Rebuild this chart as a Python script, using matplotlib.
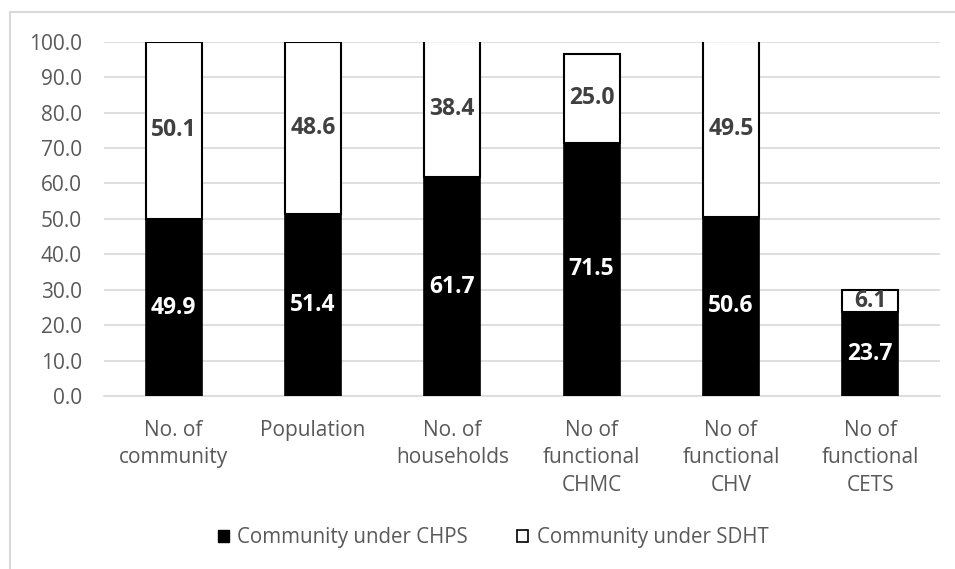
import matplotlib
matplotlib.use("Agg")
import matplotlib.pyplot as plt
from matplotlib.lines import Line2D
import numpy as np

categories = ["No. of\ncommunity", "Population", "No. of\nhouseholds",
              "No of\nfunctional\nCHMC", "No of\nfunctional\nCHV", "No of\nfunctional\nCETS"]
chps = [49.9, 51.4, 61.7, 71.5, 50.6, 23.7]
sdht = [50.1, 48.6, 38.4, 25.0, 49.5, 6.1]
series_names = ["Community under CHPS", "Community under SDHT"]
yticks = np.arange(0, 101, 10)

plt.rcParams['font.family'] = ['Open Sans', 'DejaVu Sans']

W, H = 955, 569
fig = plt.figure(figsize=(W / 100, H / 100), dpi=100)
ax = fig.add_axes([104 / W, 1 - 396 / H, (940 - 104) / W, (396 - 41.7) / H])

x = np.arange(len(categories))
bw = 0.40
b1 = ax.bar(x, chps, bw, color="black", edgecolor="black", linewidth=1.2, zorder=3)
b2 = ax.bar(x, sdht, bw, bottom=chps, color="white", edgecolor="black", linewidth=1.5, zorder=3)

for xi, v in zip(x, chps):
    ax.text(xi, v / 2, f"{v:.1f}", ha="center", va="center", color="white",
            fontsize=16.5, fontweight="bold", zorder=4)
for xi, b, v in zip(x, chps, sdht):
    ax.text(xi, b + v / 2, f"{v:.1f}", ha="center", va="center", color="#404040",
            fontsize=16.5, fontweight="bold", zorder=4)

ax.set_xlim(-0.5, len(categories) - 0.5)
ax.set_ylim(0, 100)
ax.set_yticks(yticks)
ax.set_yticklabels([f"{t:.1f}" for t in yticks])
ax.set_xticks(x)
ax.set_xticklabels(categories, linespacing=1.42)
ax.yaxis.grid(True, color="#d9d9d9", linewidth=1.2, zorder=0)
ax.set_axisbelow(True)
for s in ["top", "right", "left"]:
    ax.spines[s].set_visible(False)
ax.spines["bottom"].set_color("#d9d9d9")
ax.spines["bottom"].set_linewidth(1.2)
ax.tick_params(axis="both", length=0, labelsize=15, labelcolor="#595959")
ax.tick_params(axis="y", pad=16)
ax.tick_params(axis="x", pad=17)

# outer chart border (left and top visible)
fig.add_artist(Line2D([9.5 / W, 9.5 / W], [0, 1 - 12 / H], transform=fig.transFigure,
                      color="#d9d9d9", linewidth=1.5))
fig.add_artist(Line2D([9.5 / W, 1], [1 - 12 / H, 1 - 12 / H], transform=fig.transFigure,
                      color="#d9d9d9", linewidth=1.5))

handles = [plt.Rectangle((0, 0), 1, 1, facecolor="black", edgecolor="black"),
           plt.Rectangle((0, 0), 1, 1, facecolor="white", edgecolor="black", linewidth=1.2)]
leg = fig.legend(handles, series_names, loc="center", bbox_to_anchor=(493 / W, 1 - 538 / H),
                 ncol=2, frameon=False, fontsize=14.8, handlelength=0.55, handleheight=0.55,
                 handletextpad=0.4, columnspacing=2.4)
for t in leg.get_texts():
    t.set_color("#595959")

fig.savefig("out.png", dpi=100)
